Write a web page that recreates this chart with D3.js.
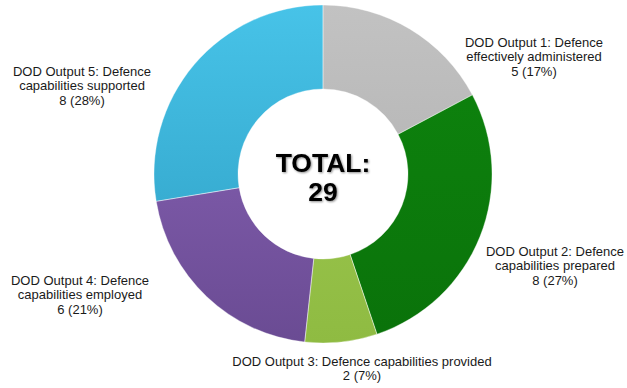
<!DOCTYPE html>
<html>
<head>
<meta charset="utf-8">
<script src="https://cdn.jsdelivr.net/npm/d3@7"></script>
<style>
  html, body { margin: 0; padding: 0; background: #fff; }
  svg { display: block; }
  text { font-family: "Liberation Sans", Arial, sans-serif; }
</style>
</head>
<body>
<script>
// ---- data ----
const categories = [
  "DOD Output 1: Defence effectively administered",
  "DOD Output 2: Defence capabilities prepared",
  "DOD Output 3: Defence capabilities provided",
  "DOD Output 4: Defence capabilities employed",
  "DOD Output 5: Defence capabilities supported"
];
const values = [5, 8, 2, 6, 8];
const percentLabels = ["17%", "27%", "7%", "21%", "28%"];
const labelLines = [
  ["DOD Output 1: Defence", "effectively administered"],
  ["DOD Output 2: Defence", "capabilities prepared"],
  ["DOD Output 3: Defence capabilities provided"],
  ["DOD Output 4: Defence", "capabilities employed"],
  ["DOD Output 5: Defence", "capabilities supported"]
];
const totalLabel = "TOTAL:";

// ---- style / layout ----
const colorsTop = ["#c2c2c2", "#0e860e", "#a3cd55", "#8c66ba", "#47c3e8"];
const colorsBottom = ["#ababab", "#0a720a", "#8fbb42", "#6a4b93", "#2d9dc2"];
const labelPos = [[534, 47], [555, 256], [362, 366], [80, 285], [82, 76]];

const W = 627, H = 388;
const cx = 323, cy = 174, rOuter = 169, rInner = 85;

const svg = d3.select("body").append("svg").attr("width", W).attr("height", H);
const defs = svg.append("defs");

values.forEach((v, i) => {
  const gr = defs.append("linearGradient")
    .attr("id", "grad" + i)
    .attr("gradientUnits", "userSpaceOnUse")
    .attr("x1", 0).attr("y1", -rOuter)
    .attr("x2", 0).attr("y2", rOuter);
  gr.append("stop").attr("offset", "0%").attr("stop-color", colorsTop[i]);
  gr.append("stop").attr("offset", "100%").attr("stop-color", colorsBottom[i]);
});

const shadow = defs.append("filter").attr("id", "txtShadow")
  .attr("x", "-10%").attr("y", "-10%").attr("width", "130%").attr("height", "140%");
shadow.append("feGaussianBlur").attr("in", "SourceAlpha").attr("stdDeviation", 1).attr("result", "b");
shadow.append("feOffset").attr("in", "b").attr("dx", 1).attr("dy", 1).attr("result", "o");
shadow.append("feComponentTransfer").attr("in", "o").attr("result", "o2")
  .append("feFuncA").attr("type", "linear").attr("slope", 0.45);
const m = shadow.append("feMerge");
m.append("feMergeNode").attr("in", "o2");
m.append("feMergeNode").attr("in", "SourceGraphic");

const pie = d3.pie().sort(null).value(d => d);
const arcs = pie(values);
const arc = d3.arc().innerRadius(rInner).outerRadius(rOuter);

const g = svg.append("g").attr("transform", `translate(${cx},${cy})`);
g.selectAll("path.slice")
  .data(arcs)
  .join("path")
  .attr("class", "slice")
  .attr("d", arc)
  .attr("fill", (d, i) => `url(#grad${i})`)
  .attr("stroke", "none");

// subtle bevel edge
g.selectAll("path.edge")
  .data(arcs)
  .join("path")
  .attr("class", "edge")
  .attr("d", arc)
  .attr("fill", "none")
  .attr("stroke", "rgba(255,255,255,0.35)")
  .attr("stroke-width", 1);

// center total
const total = d3.sum(values);
const ct = svg.append("g").attr("filter", "url(#txtShadow)");
ct.append("text").attr("x", cx).attr("y", 172)
  .attr("text-anchor", "middle").attr("font-size", 26.5).attr("font-weight", "bold")
  .attr("fill", "#000").text(totalLabel);
ct.append("text").attr("x", cx).attr("y", 201)
  .attr("text-anchor", "middle").attr("font-size", 26.5).attr("font-weight", "bold")
  .attr("fill", "#000").text(total);

// labels
values.forEach((v, i) => {
  const lines = labelLines[i].concat([`${v} (${percentLabels[i]})`]);
  const t = svg.append("text")
    .attr("x", labelPos[i][0]).attr("y", labelPos[i][1])
    .attr("text-anchor", "middle").attr("font-size", 13).attr("fill", "#1a1a1a");
  lines.forEach((ln, j) => {
    t.append("tspan").attr("x", labelPos[i][0]).attr("dy", j === 0 ? 0 : 14.3).text(ln);
  });
});
</script>
</body>
</html>
